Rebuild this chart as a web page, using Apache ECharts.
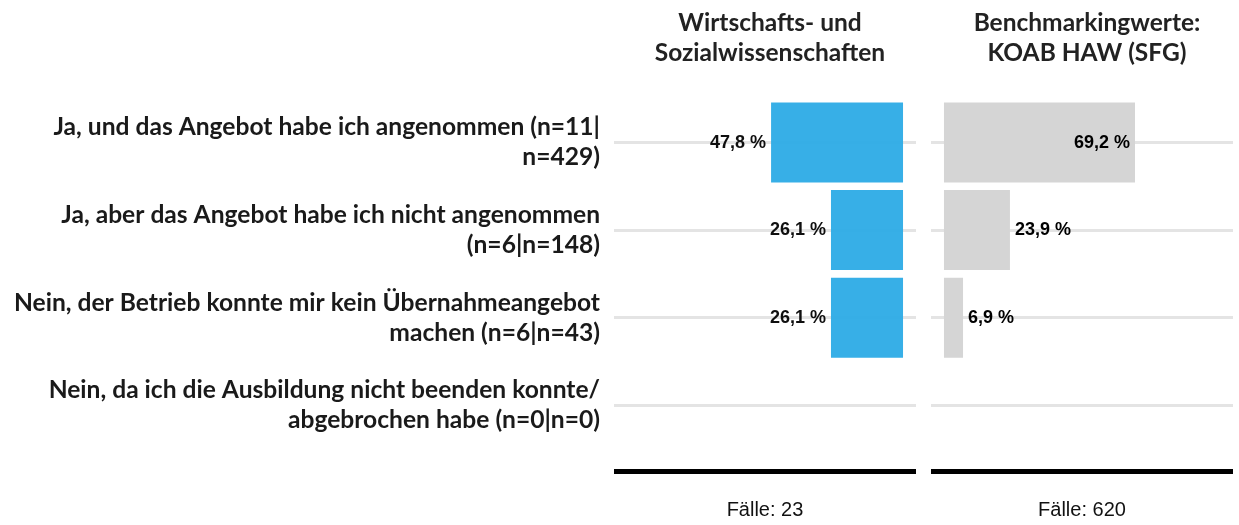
<!DOCTYPE html>
<html>
<head>
<meta charset="utf-8">
<script src="https://cdn.jsdelivr.net/npm/echarts@6/dist/echarts.min.js"></script>
<style>
  html, body { margin: 0; padding: 0; background: #fff; }
  #chart { width: 1239px; height: 525px; }
</style>
</head>
<body>
<div id="chart"></div>
<script>
// Answer categories (line breaks as shown on the axis)
const categories = [
  'Ja, und das Angebot habe ich angenommen (n=11|\nn=429)',
  'Ja, aber das Angebot habe ich nicht angenommen\n(n=6|n=148)',
  'Nein, der Betrieb konnte mir kein Übernahmeangebot\nmachen (n=6|n=43)',
  'Nein, da ich die Ausbildung nicht beenden konnte/\nabgebrochen habe (n=0|n=0)'
];
// Shares in percent; null = no answers in that group
const valuesFach = [47.8, 26.1, 26.1, null];
const valuesBench = [69.2, 23.9, 6.9, null];
const panelTitles = ['Wirtschafts- und\nSozialwissenschaften', 'Benchmarkingwerte:\nKOAB HAW (SFG)'];
const caseCounts = ['Fälle: 23', 'Fälle: 620'];

const fmt = v => v.toFixed(1).replace('.', ',') + ' %';
const gridTop = 98.75, gridBottom = 72.25;

const valueLabel = {
  show: true,
  fontFamily: '"Liberation Sans", Arial, sans-serif',
  fontWeight: 'bold',
  fontSize: 18,
  color: '#000',
  distance: 5,
  formatter: p => fmt(p.value)
};

// horizontal guide line through the middle of every category, behind the bars
const gridMarks = {
  silent: true,
  z: 1,
  symbol: 'none',
  label: { show: false },
  lineStyle: { color: '#e4e4e4', width: 3, type: 'solid', opacity: 1 },
  data: categories.map(c => ({ yAxis: c }))
};

function xAxisFor(idx, inverse) {
  return {
    type: 'value',
    gridIndex: idx,
    min: -4.7,
    max: 104.7,
    inverse: inverse,
    offset: 22,
    axisLine: { show: true, onZero: false, lineStyle: { color: '#000', width: 5, cap: 'butt' } },
    axisTick: { show: false },
    axisLabel: { show: false },
    splitLine: { show: false },
    name: caseCounts[idx],
    nameLocation: 'middle',
    nameGap: 29,
    nameTextStyle: {
      fontFamily: '"Liberation Sans", Arial, sans-serif',
      fontSize: 20,
      color: '#111'
    }
  };
}

const option = {
  animation: false,
  backgroundColor: '#fff',
  title: panelTitles.map((t, i) => ({
    text: t,
    left: i === 0 ? 765 : 1082,
    top: 3,
    textAlign: 'center',
    textStyle: {
      fontFamily: 'Lato, "Noto Sans", sans-serif',
      fontWeight: 'bold',
      fontSize: 24.5,
      lineHeight: 30,
      color: '#222'
    }
  })),
  grid: [
    { left: 614, width: 302, top: gridTop, bottom: gridBottom },
    { left: 931, width: 302, top: gridTop, bottom: gridBottom }
  ],
  xAxis: [xAxisFor(0, true), xAxisFor(1, false)],
  yAxis: [
    {
      type: 'category', gridIndex: 0, data: categories, inverse: true,
      axisLine: { show: false }, axisTick: { show: false }, splitLine: { show: false },
      axisLabel: {
        margin: 14,
        align: 'right',
        fontFamily: 'Lato, "Noto Sans", sans-serif',
        fontWeight: 'bold',
        fontSize: 24.6,
        lineHeight: 30,
        color: '#1a1a1a'
      }
    },
    {
      type: 'category', gridIndex: 1, data: categories, inverse: true,
      axisLine: { show: false }, axisTick: { show: false }, splitLine: { show: false },
      axisLabel: { show: false }
    }
  ],
  series: [
    {
      type: 'bar',
      z: 2,
      xAxisIndex: 0, yAxisIndex: 0,
      data: valuesFach,
      barWidth: 80,
      itemStyle: { color: '#2aaae6', opacity: 0.94 },
      label: Object.assign({}, valueLabel, { position: 'left' }),
      markLine: gridMarks
    },
    {
      type: 'bar',
      z: 2,
      xAxisIndex: 1, yAxisIndex: 1,
      data: valuesBench.map(v => v === null ? null : {
        value: v,
        label: { position: v > 50 ? 'insideRight' : 'right' }
      }),
      barWidth: 80,
      itemStyle: { color: '#d5d5d5' },
      label: valueLabel,
      markLine: gridMarks
    }
  ]
};

echarts.init(document.getElementById('chart')).setOption(option);
</script>
</body>
</html>
